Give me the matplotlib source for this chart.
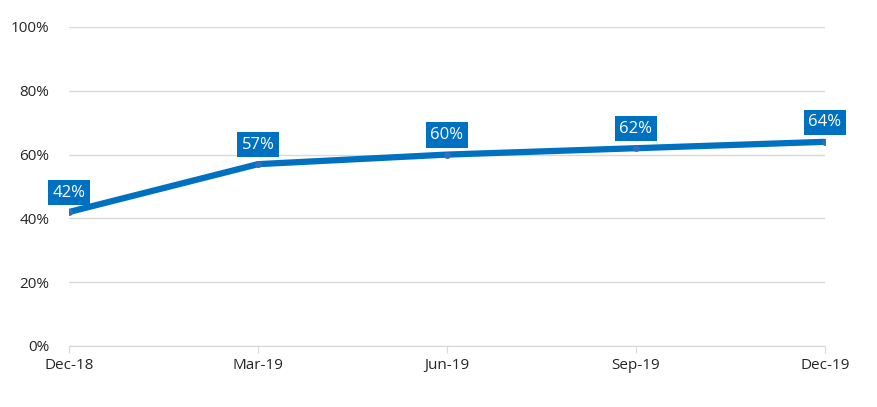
import matplotlib.pyplot as plt
from matplotlib.ticker import PercentFormatter

months = ["Dec-18", "Mar-19", "Jun-19", "Sep-19", "Dec-19"]
values = [42, 57, 60, 62, 64]

plt.rcParams['font.family'] = ['Open Sans', 'DejaVu Sans']

fig = plt.figure(figsize=(8.78, 4.07), dpi=100)
ax = fig.add_axes([0.0786, 0.1499, 0.861, 0.7838])

x = list(range(len(months)))
ax.plot(x, values, color="#0070C0", linewidth=4.5, solid_capstyle="round",
        marker="o", markersize=5, markerfacecolor="#2F6FBF", markeredgewidth=0,
        zorder=3)

# data labels: white text on blue boxes above each point
for xi, v in zip(x, values):
    ax.annotate(f"{v}%", (xi, v), xytext=(0, 14), textcoords="offset points",
                ha="center", va="center", color="white", fontsize=12,
                bbox=dict(boxstyle="square,pad=0.28", fc="#0070C0", ec="none"),
                zorder=4)

ax.set_xlim(0, 4)
ax.set_ylim(0, 100)
ax.set_yticks([0, 20, 40, 60, 80, 100])
ax.yaxis.set_major_formatter(PercentFormatter(decimals=0))
ax.set_xticks(x)
ax.set_xticklabels(months)

ax.grid(axis="y", color="#D9D9D9", linewidth=1)
ax.set_axisbelow(True)
for s in ["top", "right", "left"]:
    ax.spines[s].set_visible(False)
ax.spines["bottom"].set_color("#D9D9D9")
ax.tick_params(axis="y", length=0, labelsize=11, labelcolor="#262626", pad=14)
ax.tick_params(axis="x", length=5, color="#D9D9D9", labelsize=11,
               labelcolor="#262626", pad=4)

fig.savefig("out.png", dpi=100)
